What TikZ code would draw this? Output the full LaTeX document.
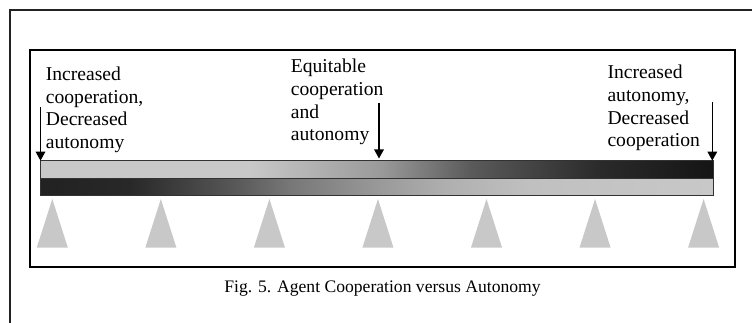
\documentclass[tikz,border=0pt]{standalone}
\usepackage{fontspec}
\setmainfont{Liberation Serif}
\usetikzlibrary{arrows.meta}
\definecolor{c200}{RGB}{200,200,200}
\definecolor{c192}{RGB}{192,192,192}
\definecolor{c176}{RGB}{176,176,176}
\definecolor{c154}{RGB}{154,154,154}
\definecolor{c119}{RGB}{119,119,119}
\definecolor{c90}{RGB}{90,90,90}
\definecolor{c85}{RGB}{85,85,85}
\definecolor{c42}{RGB}{42,42,42}
\definecolor{c40}{RGB}{40,40,40}
\definecolor{c34}{RGB}{34,34,34}
\definecolor{c21}{RGB}{21,21,21}
\definecolor{trigray}{RGB}{200,200,200}
\definecolor{framegray}{RGB}{34,34,34}
\definecolor{baredge}{RGB}{50,50,50}
\pgfdeclarehorizontalshading{topbarshade}{100bp}{color(0bp)=(c200); color(25bp)=(c200); color(40.5bp)=(c200); color(50.3bp)=(c154); color(57bp)=(c90); color(66.6bp)=(c42); color(75bp)=(c21); color(100bp)=(c21)}
\pgfdeclarehorizontalshading{botbarshade}{100bp}{color(0bp)=(c34); color(25bp)=(c34); color(31.6bp)=(c40); color(39bp)=(c85); color(43.5bp)=(c119); color(50.3bp)=(c154); color(55.4bp)=(c176); color(61.4bp)=(c192); color(75bp)=(c200); color(100bp)=(c200)}
\tikzset{
  outerframe/.style={draw=framegray, line width=2.2pt},
  innerframe/.style={draw=black, line width=2.2pt},
  barbox/.style={draw=baredge, line width=0.9pt},
  label/.style={anchor=north west, inner sep=0pt, align=left, font=\fontsize{19.6}{22.7}\selectfont},
  caption/.style={anchor=base, inner sep=0pt, font=\fontsize{17.6}{20}\selectfont},
  arr/.style={draw=black, line width=1.4pt, -{Triangle[width=9.5pt,length=9pt]}},
  tri/.style={fill=trigray, draw=none}
}
\begin{document}
\begin{tikzpicture}[x=1pt,y=-1pt]
\useasboundingbox (0,0) rectangle (752,323);
\fill[white] (0,0) rectangle (752,323);
% outer frame (partly visible)
\draw[outerframe] (10,324) -- (10,10) -- (753,10);
% inner frame
\draw[innerframe] (30,50) rectangle (735,267);
% bars
\path[shading=topbarshade] (40.7,160.7) rectangle (713.3,178.3);
\path[shading=botbarshade] (40.7,178.3) rectangle (713.3,195.7);
\draw[barbox] (40.7,160.7) rectangle (713.3,178.3);
\draw[barbox] (40.7,178.3) rectangle (713.3,195.7);
% triangles
\foreach \i in {0,...,6}{
  \pgfmathsetmacro{\cx}{52.3+\i*108.55}
  \fill[tri] (\cx-15.5,247.5) -- (\cx,199) -- (\cx+15.5,247.5) -- cycle;
}
% labels
\node[label] (lleft) at (45.7,66.6) {Increased\\cooperation,\\Decreased\\autonomy};
\node[label] (lmid) at (290.7,59.1) {Equitable\\cooperation\\and\\autonomy};
\node[label] (lright) at (607.3,65.1) {Increased\\autonomy,\\Decreased\\cooperation};
% arrows
\coordinate (aLs) at (40.5,107.5);
\coordinate (aLe) at (40.5,160.7);
\coordinate (aMs) at (379,103.3);
\coordinate (aMe) at (379,158.5);
\coordinate (aRs) at (712.3,101.7);
\coordinate (aRe) at (712.3,160.7);
\draw[arr] (aLs) -- (aLe);
\draw[arr] (aMs) -- (aMe);
\draw[arr] (aRs) -- (aRe);
% caption
\node[caption] (cap) at (382.5,292) {Fig. 5. Agent Cooperation versus Autonomy};
\end{tikzpicture}
\end{document}
